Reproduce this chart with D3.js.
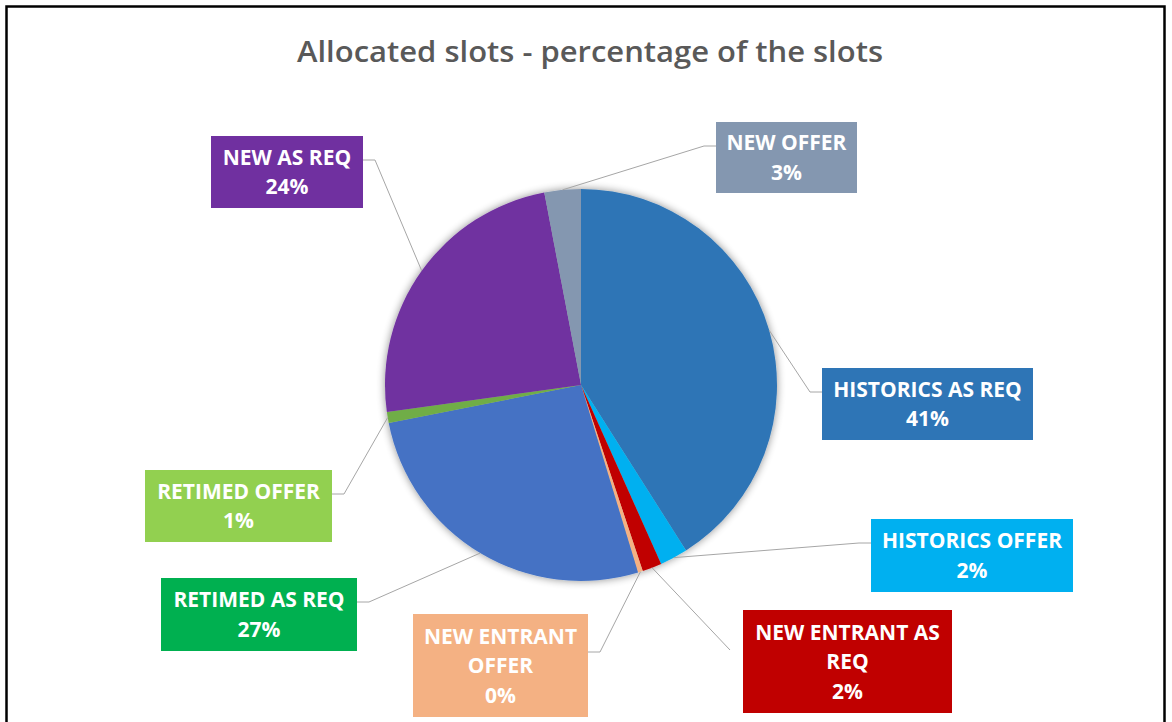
<!DOCTYPE html>
<html>
<head>
<meta charset="utf-8">
<script src="https://cdn.jsdelivr.net/npm/d3@7"></script>
<style>
  html, body { margin: 0; padding: 0; background: #fff; }
  svg { display: block; font-family: "Open Sans", sans-serif; }
</style>
</head>
<body>
<svg id="chart" width="1172" height="722"></svg>
<script>
// Slice data, clockwise from 12 o'clock.
const categories = [
  'HISTORICS AS REQ', 'HISTORICS OFFER', 'NEW ENTRANT AS REQ', 'NEW ENTRANT OFFER',
  'RETIMED AS REQ', 'RETIMED OFFER', 'NEW AS REQ', 'NEW OFFER'
];
const values = [41.0, 2.3, 1.6, 0.4, 26.6, 0.9, 24.2, 3.0];
const sliceColors = ['#2E75B6', '#00B0F0', '#C00000', '#F4B183', '#4472C4', '#70AD47', '#7030A0', '#8497B0'];
const boxColors = ['#2E75B6', '#00B0F0', '#C00000', '#F4B183', '#00B050', '#92D050', '#7030A0', '#8497B0'];

// Label box layout: x, y, w, h, lines of the category name, elbow side.
const labelLayout = [
  { x: 822, y: 368, w: 211, h: 72, lines: ['HISTORICS AS REQ'], side: 'left' },
  { x: 871, y: 519, w: 202, h: 73, lines: ['HISTORICS OFFER'], side: 'left' },
  { x: 743, y: 610, w: 209, h: 103, lines: ['NEW ENTRANT AS', 'REQ'], side: 'none', end: [730, 650] },
  { x: 413, y: 614, w: 175, h: 103, lines: ['NEW ENTRANT', 'OFFER'], side: 'right' },
  { x: 161, y: 578, w: 196, h: 73, lines: ['RETIMED AS REQ'], side: 'right' },
  { x: 145, y: 470, w: 187, h: 72, lines: ['RETIMED OFFER'], side: 'right' },
  { x: 211, y: 136, w: 152, h: 72, lines: ['NEW AS REQ'], side: 'right' },
  { x: 716, y: 122, w: 141, h: 71, lines: ['NEW OFFER'], side: 'left' }
];

const svg = d3.select('#chart');
const cx = 581, cy = 385, r = 196;

// Outer frame
svg.append('rect')
  .attr('x', 6.5).attr('y', 6.5)
  .attr('width', 1158).attr('height', 740)
  .attr('fill', '#fff')
  .attr('stroke', '#000')
  .attr('stroke-width', 2.5);

// Title
svg.append('text')
  .attr('x', 590).attr('y', 62)
  .attr('text-anchor', 'middle')
  .attr('font-size', 29)
  .attr('font-weight', 600)
  .attr('fill', '#595959')
  .attr('textLength', 586)
  .attr('lengthAdjust', 'spacingAndGlyphs')
  .text('Allocated slots - percentage of the slots');

const defs = svg.append('defs');
const shadow = defs.append('filter')
  .attr('id', 'pieShadow')
  .attr('x', '-20%').attr('y', '-20%')
  .attr('width', '140%').attr('height', '140%');
shadow.append('feGaussianBlur').attr('in', 'SourceAlpha').attr('stdDeviation', 4).attr('result', 'blur');
shadow.append('feComponentTransfer').attr('in', 'blur').attr('result', 'soft')
  .append('feFuncA').attr('type', 'linear').attr('slope', 0.45);
const merge = shadow.append('feMerge');
merge.append('feMergeNode').attr('in', 'soft');
merge.append('feMergeNode').attr('in', 'SourceGraphic');

const slices = categories.map((c, i) => ({ name: c, value: values[i], i }));
const pie = d3.pie().value((d) => d.value).sort(null);
const arcs = pie(slices);
const arc = d3.arc().innerRadius(0).outerRadius(r);

const pieG = svg.append('g')
  .attr('transform', `translate(${cx},${cy})`)
  .attr('filter', 'url(#pieShadow)');

pieG.selectAll('path')
  .data(arcs)
  .join('path')
  .attr('d', arc)
  .attr('fill', (d) => sliceColors[d.data.i]);

const total = d3.sum(values);
const pct = (v) => `${Math.round((v / total) * 100)}%`;

// Leader lines: from the slice's outer midpoint to the label box elbow.
const leaderG = svg.append('g')
  .attr('fill', 'none')
  .attr('stroke', '#A6A6A6')
  .attr('stroke-width', 1);

arcs.forEach((a) => {
  const lay = labelLayout[a.data.i];
  const mid = (a.startAngle + a.endAngle) / 2;
  const p0 = [cx + r * Math.sin(mid), cy - r * Math.cos(mid)];
  let pts;
  if (lay.side === 'none') {
    pts = [p0, lay.end];
  } else {
    const ly = lay.lines.length > 1 ? lay.y + 38 : lay.y + 24;
    const bx = lay.side === 'left' ? lay.x : lay.x + lay.w;
    const ex = lay.side === 'left' ? bx - 12 : bx + 12;
    pts = [p0, [ex, ly], [bx, ly]];
  }
  leaderG.append('path').attr('d', d3.line()(pts));
});

// Label boxes
const labelG = svg.append('g');
arcs.forEach((a) => {
  const i = a.data.i;
  const lay = labelLayout[i];
  const g = labelG.append('g');
  g.append('rect')
    .attr('x', lay.x).attr('y', lay.y)
    .attr('width', lay.w).attr('height', lay.h)
    .attr('fill', boxColors[i]);
  const lines = [...lay.lines, pct(values[i])];
  const lineH = 29.5;
  const top = lay.y + lay.h / 2 - (lines.length - 1) * lineH / 2;
  lines.forEach((t, k) => {
    g.append('text')
      .attr('x', lay.x + lay.w / 2)
      .attr('y', top + k * lineH)
      .attr('dy', '0.36em')
      .attr('text-anchor', 'middle')
      .attr('font-size', 21)
      .attr('font-weight', 'bold')
      .attr('fill', '#fff')
      .text(t);
  });
});
</script>
</body>
</html>
